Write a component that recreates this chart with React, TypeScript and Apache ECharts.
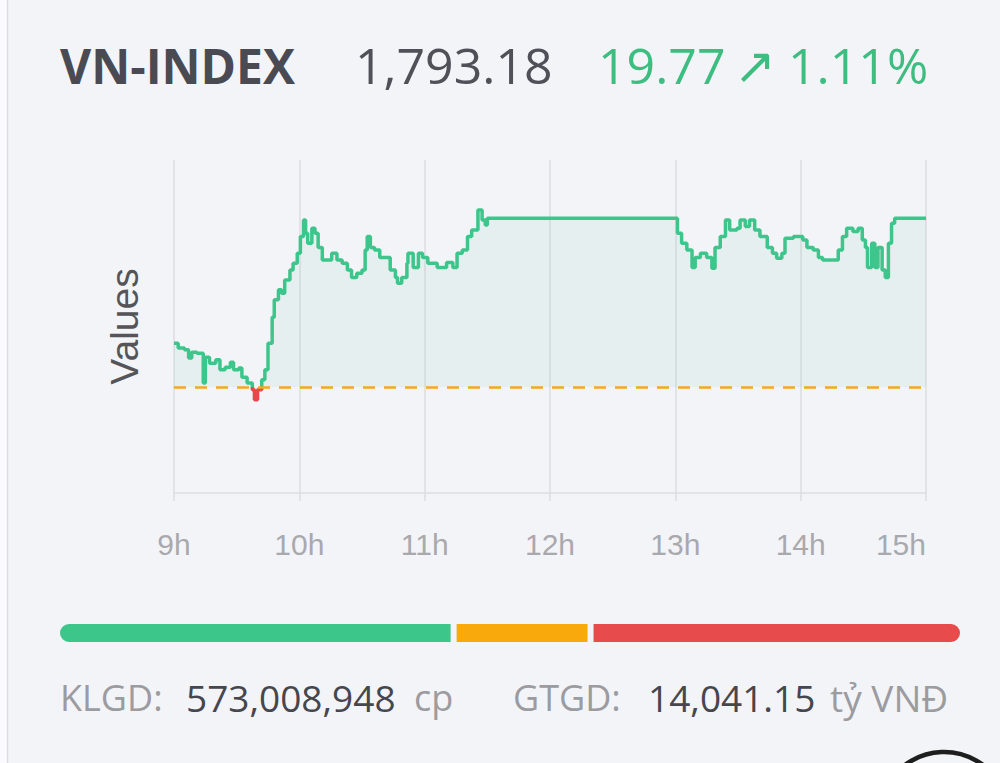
import React, { useEffect, useRef } from "react";
import * as echarts from "echarts";

// ---- data ----
const INDEX_NAME = "VN-INDEX";
const LAST_PRICE = "1,793.18";
const CHANGE = "19.77";
const CHANGE_PCT = "1.11%";
const REFERENCE = 1773.41;
const HOUR_TICKS = [9, 10, 11, 12, 13, 14, 15];
const Y_MIN = 1761;
const Y_MAX = 1800;

// [minutes after 9:00, index value]
const INDEX_POINTS: [number, number][] = [
  [0, 1778.55], [2, 1777.97], [5, 1777.77], [7, 1776.8], [8.5, 1777.48], [11, 1777.38],
  [14, 1773.87], [15, 1776.89], [17, 1776.21], [20, 1776.6], [22, 1775.43], [24.5, 1775.72],
  [27, 1776.31], [28.5, 1775.43], [31, 1775.63], [32.5, 1774.55], [35, 1773.87], [37.5, 1773.09],
  [38.5, 1771.92], [40, 1773.09], [42, 1774.26], [43.5, 1775.43], [45, 1778.55], [47, 1781.57],
  [48, 1783.62], [50, 1784.79], [51.5, 1784.4], [53, 1785.96], [55.5, 1787.13], [57, 1787.91],
  [59, 1789.08], [60.5, 1791.03], [62, 1792.98], [63, 1791.42], [64, 1790.25], [66, 1792.01],
  [67.5, 1791.42], [69, 1789.76], [71, 1788.3], [74, 1788.3], [75.5, 1789.08], [78, 1788.3],
  [80.5, 1787.91], [83, 1787.13], [85, 1786.25], [87.5, 1786.74], [90, 1787.13], [91.5, 1789.47],
  [92.5, 1791.03], [94, 1789.76], [96, 1789.47], [98.5, 1788.59], [102, 1788.59], [103.5, 1787.13],
  [106, 1786.25], [107, 1785.57], [109, 1786.25], [111.5, 1787.91], [112, 1789.08], [114.5, 1787.42],
  [117, 1789.08], [119, 1788.59], [121.5, 1787.91], [126, 1787.42], [130.5, 1788.01], [133.5, 1787.42],
  [135.5, 1789.08], [138, 1789.47], [140.5, 1791.03], [142.5, 1791.81], [145.5, 1794.15], [147.5, 1792.98],
  [149, 1792.4], [150, 1793.18], [240, 1793.18], [241, 1791.42], [243, 1790.25], [245.5, 1789.47],
  [248, 1787.42], [249.5, 1788.59], [252, 1789.08], [255, 1788.59], [257.5, 1787.33], [259, 1789.76],
  [261.5, 1791.03], [264, 1792.98], [266, 1791.81], [269.5, 1792.01], [271, 1792.98], [273.5, 1792.2],
  [275.5, 1792.98], [278, 1791.81], [280.5, 1791.03], [284, 1789.76], [286.5, 1789.08], [288.5, 1788.5],
  [291, 1789.08], [292.5, 1790.84], [296.5, 1791.03], [301, 1790.64], [303, 1789.76], [306, 1789.47],
  [308.5, 1788.59], [310.5, 1788.3], [315.5, 1788.3], [318, 1789.47], [320, 1791.03], [322, 1792.01],
  [325, 1791.62], [327.5, 1792.01], [329.5, 1790.64], [331, 1789.76], [332, 1787.42], [334, 1790.25],
  [335.5, 1787.42], [337, 1789.76], [339, 1787.13], [340.5, 1786.25], [342, 1790.25], [343.5, 1792.59],
  [345, 1793.18], [360, 1793.18],
];

const BREADTH_NAMES = ["Tăng", "Đứng giá", "Giảm"];
const BREADTH_VALUES = [197, 68, 185];

const VOLUME_LABEL = "KLGD:";
const VOLUME_VALUE = "573,008,948";
const VOLUME_UNIT = "cp";
const TURNOVER_LABEL = "GTGD:";
const TURNOVER_VALUE = "14,041.15";
const TURNOVER_UNIT = "tỷ VNĐ";

// ---- styles ----
const BG = "#f3f4f8";
const UP = "#3dc58b";
const DOWN = "#e8474c";
const REF_COLOR = "#f3a81e";
const BREADTH_COLORS = ["#3cc68a", "#f9a90c", "#e84b4b"];
const SANS = '"Open Sans", "Noto Sans", sans-serif';
const AXIS_FONT = '"Liberation Sans", Arial, sans-serif';

export default function App() {
  const ref = useRef<HTMLDivElement>(null);

  useEffect(() => {
    if (!ref.current) return;
    const chart = echarts.init(ref.current, undefined, { renderer: "svg" });
    const last = BREADTH_VALUES.length - 1;
    const total = BREADTH_VALUES.reduce((a, b) => a + b, 0);

    const text = (t: string, x: number, y: number, size: number, color: string, weight = "normal", family = SANS) => ({
      type: "text",
      x,
      y,
      silent: true,
      style: {
        text: t,
        fill: color,
        fontSize: size,
        fontWeight: weight,
        fontFamily: family,
        verticalAlign: "middle",
        align: "left",
      },
    });

    chart.setOption({
      animation: false,
      backgroundColor: BG,
      grid: [
        { left: 174, right: 74, top: 160, bottom: 270 },
        { left: 57, right: 37, top: 621, height: 24 },
      ],
      xAxis: [
        {
          type: "value",
          gridIndex: 0,
          min: 0,
          max: 360,
          interval: 60,
          axisLine: { show: true, lineStyle: { color: "#dcdde2", width: 1.5 } },
          axisTick: { show: true, length: 8, lineStyle: { color: "#dcdde2", width: 1.5 } },
          splitLine: { show: true, lineStyle: { color: "#dcdde2", width: 1.5 } },
          axisLabel: {
            color: "#a9a9ad",
            fontSize: 30,
            fontFamily: AXIS_FONT,
            margin: 36,
            alignMaxLabel: "right",
            formatter: (v: number) => `${HOUR_TICKS[Math.round(v / 60)]}h`,
          },
        },
        { type: "value", gridIndex: 1, min: 0, max: total, show: false },
      ],
      yAxis: [
        {
          type: "value",
          gridIndex: 0,
          min: Y_MIN,
          max: Y_MAX,
          name: "Values",
          nameLocation: "middle",
          nameGap: 30,
          nameTextStyle: { fontSize: 39, color: "#555559", fontFamily: AXIS_FONT },
          axisLine: { show: false },
          axisTick: { show: false },
          axisLabel: { show: false },
          splitLine: { show: false },
        },
        { type: "category", gridIndex: 1, data: ["breadth"], show: false },
      ],
      visualMap: {
        type: "piecewise",
        show: false,
        seriesIndex: 0,
        dimension: 1,
        pieces: [
          { gte: 0, lt: REFERENCE, color: DOWN },
          { gte: REFERENCE, color: UP },
        ],
        outOfRange: { color: UP },
      },
      series: [
        {
          type: "line",
          xAxisIndex: 0,
          yAxisIndex: 0,
          data: INDEX_POINTS,
          step: "end",
          showSymbol: false,
          lineStyle: { width: 3.5 },
          areaStyle: { color: "rgba(61,197,139,0.11)", origin: REFERENCE },
          markLine: {
            silent: true,
            symbol: ["none", "none"],
            label: { show: false },
            lineStyle: { color: REF_COLOR, type: [12, 9], width: 2.5 },
            data: [{ yAxis: REFERENCE }],
          },
          z: 3,
        },
        ...BREADTH_VALUES.map((v, i) => ({
          type: "bar",
          name: BREADTH_NAMES[i],
          xAxisIndex: 1,
          yAxisIndex: 1,
          stack: "breadth",
          barWidth: 24,
          data: [v],
          itemStyle: {
            color: BREADTH_COLORS[i],
            borderColor: BG,
            borderWidth: 3,
            borderRadius: i === 0 ? [12, 0, 0, 12] : i === last ? [0, 12, 12, 0] : 0,
          },
        })),
      ],
      graphic: [
        { type: "rect", silent: true, shape: { x: 0, y: 0, width: 7, height: 763 }, style: { fill: "#fbfbfd" } },
        { type: "line", silent: true, shape: { x1: 7.5, y1: 0, x2: 7.5, y2: 763 }, style: { stroke: "#dcdde3", lineWidth: 1.5 } },
        text(INDEX_NAME, 60, 65, 48, "#4a4a52", "bold"),
        text(LAST_PRICE, 355, 65, 50, "#505058"),
        text(CHANGE, 598, 65, 50, "#3dbd80"),
        text("↗", 734, 66, 50, "#3dbd80", "normal", '"DejaVu Sans", sans-serif'),
        text(CHANGE_PCT, 788, 65, 50, "#3dbd80"),
        text(VOLUME_LABEL, 60, 697, 36, "#9b9ba0"),
        text(VOLUME_VALUE, 186, 697, 37, "#46464e"),
        text(VOLUME_UNIT, 414, 697, 36, "#9b9ba0"),
        text(TURNOVER_LABEL, 513, 697, 36, "#9b9ba0"),
        text(TURNOVER_VALUE, 648, 697, 37, "#46464e"),
        text(TURNOVER_UNIT, 830, 697, 37, "#9b9ba0"),
        {
          type: "circle",
          silent: true,
          shape: { cx: 944, cy: 817, r: 65 },
          style: { fill: "none", stroke: "#1e1e1e", lineWidth: 4.5 },
        },
      ],
    });

    return () => chart.dispose();
  }, []);

  return (
    <div
      ref={ref}
      style={{ position: "absolute", left: 0, top: 0, width: 1000, height: 763, background: BG }}
    />
  );
}
